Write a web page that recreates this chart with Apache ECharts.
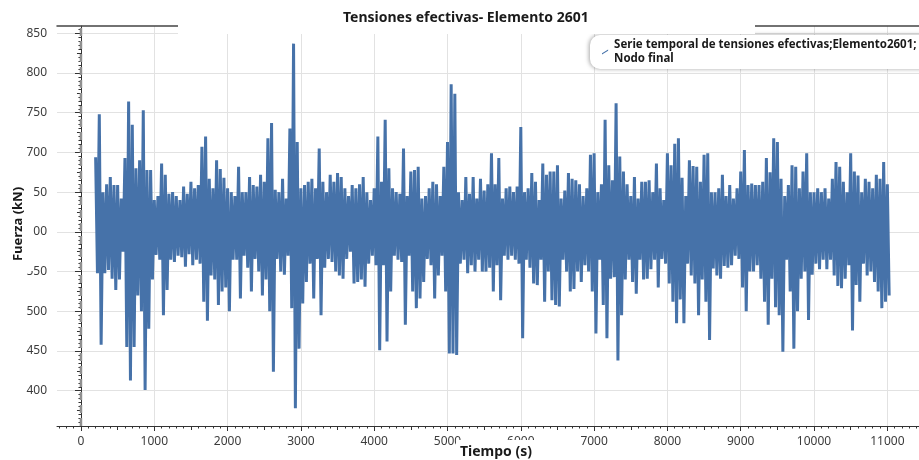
<!DOCTYPE html>
<html>
<head>
<meta charset="utf-8">
<script src="https://cdn.jsdelivr.net/npm/echarts@6/dist/echarts.min.js"></script>
<style>
  html, body { margin: 0; padding: 0; background: #fff; }
  #chart { width: 919px; height: 460px; }
</style>
</head>
<body>
<div id="chart"></div>
<script>
// Tensiones efectivas, elemento 2601 (nodo final): envolvente por intervalo
const serieNombre = 'Serie temporal de tensiones efectivas;Elemento2601;\nNodo final';
const tInicio = 200;   // s, primer intervalo
const tPaso = 50;      // s, ancho de cada intervalo

// Máximo de fuerza (kN) en cada intervalo
const picos = [
  694, 748, 650, 660, 669, 659, 659, 642, 693, 764,
  735, 680, 690, 753, 678, 678, 640, 645, 686, 672,
  648, 650, 645, 640, 657, 648, 663, 655, 659, 707,
  720, 667, 655, 690, 679, 668, 655, 650, 645, 682,
  650, 650, 669, 659, 657, 672, 663, 718, 737, 653,
  650, 667, 642, 730, 837, 713, 655, 659, 663, 667,
  655, 705, 663, 650, 672, 663, 674, 669, 655, 645,
  659, 655, 660, 669, 650, 640, 655, 720, 663, 741,
  680, 655, 650, 648, 705, 645, 676, 678, 682, 642,
  645, 655, 663, 660, 645, 682, 713, 786, 774, 650,
  640, 669, 648, 669, 642, 667, 652, 660, 699, 660,
  693, 642, 655, 657, 650, 657, 732, 650, 655, 674,
  663, 640, 686, 672, 676, 676, 684, 642, 652, 674,
  667, 665, 660, 645, 655, 697, 699, 650, 660, 741,
  684, 665, 762, 695, 676, 660, 645, 669, 642, 663,
  663, 665, 650, 686, 655, 640, 699, 684, 711, 718,
  668, 645, 690, 683, 682, 663, 697, 699, 650, 650,
  655, 672, 645, 659, 642, 655, 676, 703, 659, 661,
  659, 659, 663, 693, 675, 718, 713, 667, 645, 659,
  684, 682, 655, 676, 699, 650, 650, 655, 650, 655,
  642, 667, 688, 682, 663, 650, 699, 676, 671, 650,
  667, 663, 655, 672, 667, 688, 660
];

// Mínimo de fuerza (kN) en cada intervalo
const valles = [
  548, 458, 548, 552, 541, 527, 540, 575, 455, 413,
  455, 520, 500, 401, 478, 540, 571, 565, 495, 527,
  565, 562, 570, 568, 556, 572, 558, 565, 560, 512,
  488, 545, 540, 508, 525, 530, 500, 565, 565, 516,
  570, 555, 525, 566, 550, 520, 540, 500, 424, 566,
  550, 546, 570, 504, 378, 453, 510, 537, 560, 516,
  566, 495, 555, 566, 562, 550, 545, 541, 566, 575,
  535, 537, 540, 531, 560, 570, 558, 451, 558, 462,
  525, 570, 565, 562, 483, 570, 525, 504, 516, 537,
  566, 558, 516, 545, 570, 525, 447, 447, 445, 560,
  565, 548, 558, 550, 565, 550, 550, 555, 525, 558,
  514, 570, 565, 570, 565, 560, 466, 565, 555, 535,
  533, 565, 512, 550, 514, 508, 506, 565, 550, 525,
  528, 550, 537, 558, 550, 525, 472, 565, 508, 466,
  541, 543, 438, 495, 540, 565, 537, 522, 565, 540,
  541, 553, 565, 530, 566, 560, 535, 512, 485, 515,
  485, 560, 545, 535, 495, 540, 512, 464, 554, 545,
  541, 557, 555, 558, 570, 566, 530, 500, 550, 550,
  558, 541, 512, 483, 541, 505, 495, 449, 565, 525,
  453, 500, 541, 550, 489, 546, 560, 553, 565, 553,
  565, 545, 532, 529, 541, 558, 476, 533, 512, 560,
  545, 550, 537, 525, 504, 512, 520
];

// Marcas de los ejes
const tiempoTicks = [0, 1000, 2000, 3000, 4000, 5000, 6000, 7000, 8000, 9000, 10000, 11000];
const fuerzaTicks = [400, 450, 500, 550, 600, 650, 700, 750, 800, 850];
const tiempoOrigen = 0;

const X_MIN = -327, X_MAX = 11432;
const Y_MIN = 355.6, Y_MAX = 859.2;

// Serie: máximo y mínimo alternados dentro de cada intervalo
const datos = [];
for (let i = 0; i < picos.length; i++) {
  datos.push([tInicio + i * tPaso, picos[i]]);
  datos.push([tInicio + i * tPaso + tPaso / 2, valles[i]]);
}

// Subdivisiones de los ejes
const xMedias = [], xMenores = [], yMedias = [], yMenores = [];
for (let v = -300; v <= 11400; v += 100) {
  if (v % 1000 === 0) continue;
  if (v % 500 === 0) xMedias.push(v); else xMenores.push(v);
}
for (let v = 360; v <= 855; v += 5) {
  if (v % 50 === 0) continue;
  if (v % 25 === 0) yMedias.push(v); else yMenores.push(v);
}

const FUENTE = '"Noto Sans", "Open Sans", sans-serif';
const COLOR_EJE = '#333';
const COLOR_REJILLA = '#e2e2e2';
const AZUL = '#4672a9';

function ejeX(extra) {
  return Object.assign({
    type: 'value', min: X_MIN, max: X_MAX, position: 'bottom',
    axisLine: { show: false }, axisLabel: { show: false },
    splitLine: { show: false }, axisTick: { show: false }
  }, extra);
}
function ejeY(extra) {
  return Object.assign({
    type: 'value', min: Y_MIN, max: Y_MAX, position: 'left',
    axisLine: { show: false }, axisLabel: { show: false },
    splitLine: { show: false }, axisTick: { show: false }
  }, extra);
}

const chart = echarts.init(document.getElementById('chart'), null, { renderer: 'canvas' });

chart.setOption({
  animation: false,
  backgroundColor: '#fff',
  title: {
    text: 'Tensiones efectivas- Elemento 2601',
    left: 343, top: 11, padding: 0, z: 10,
    textStyle: { fontFamily: FUENTE, fontWeight: 'bold', fontSize: 14, color: '#1a1a1a' }
  },
  legend: {
    left: 590, top: 35,
    padding: [3, 60, 3, 12],
    itemWidth: 8, itemHeight: 5,
    backgroundColor: '#fff',
    borderRadius: 10,
    shadowBlur: 4, shadowColor: 'rgba(0,0,0,0.35)', shadowOffsetX: -1, shadowOffsetY: 0,
    data: [{ name: serieNombre, icon: 'path://M0,8 L10,2 L10,4.2 L0,10.2 Z' }],
    textStyle: { fontFamily: FUENTE, fontWeight: 'bold', fontSize: 11.5, color: '#1a1a1a', lineHeight: 14 }
  },
  grid: { left: 57, top: 26, right: 0, height: 400, containLabel: false },
  xAxis: [
    ejeX({
      axisLine: { show: true, lineStyle: { color: COLOR_EJE, width: 1 } },
      axisTick: { show: true, length: 5, customValues: tiempoTicks, lineStyle: { color: COLOR_EJE } },
      axisLabel: {
        show: true, customValues: tiempoTicks, margin: 10,
        formatter: v => String(v),
        fontFamily: FUENTE, fontSize: 12, color: '#3c3c3c'
      },
      splitLine: { show: true, lineStyle: { color: COLOR_REJILLA, width: 1 } }
    }),
    ejeX({ axisTick: { show: true, length: 4, customValues: xMedias, lineStyle: { color: COLOR_EJE } } }),
    ejeX({ axisTick: { show: true, length: 2.5, customValues: xMenores, lineStyle: { color: COLOR_EJE } } }),
    ejeX({ position: 'top', axisLine: { show: true, lineStyle: { color: '#444', width: 1.5 } } })
  ],
  yAxis: [
    ejeY({
      axisLine: { show: true, lineStyle: { color: COLOR_EJE, width: 1 } },
      axisTick: { show: true, length: 6, customValues: fuerzaTicks, lineStyle: { color: COLOR_EJE } },
      axisLabel: { show: true, customValues: fuerzaTicks, margin: 10, fontFamily: FUENTE, fontSize: 12, color: '#3c3c3c' },
      splitLine: { show: true, lineStyle: { color: COLOR_REJILLA, width: 1 } }
    }),
    ejeY({ axisTick: { show: true, length: 4, customValues: yMedias, lineStyle: { color: COLOR_EJE } } }),
    ejeY({ axisTick: { show: true, length: 2.5, customValues: yMenores, lineStyle: { color: COLOR_EJE } } })
  ],
  graphic: [
    // franja blanca bajo el título
    { type: 'rect', z: 5, shape: { x: 178, y: 0, width: 577, height: 34 }, style: { fill: '#fff' } },
    // nombre del eje Y
    {
      type: 'text', z: 20, x: 18, y: 224, rotation: Math.PI / 2,
      style: {
        text: 'Fuerza (kN)', font: 'bold 13px ' + FUENTE, fill: '#1a1a1a',
        align: 'center', verticalAlign: 'middle',
        backgroundColor: '#fff', padding: [6, 10, 11, 10]
      }
    },
    // nombre del eje X
    {
      type: 'text', z: 20, x: 498, y: 452,
      style: {
        text: 'Tiempo (s)', font: 'bold 14px ' + FUENTE, fill: '#1a1a1a',
        align: 'center', verticalAlign: 'middle',
        backgroundColor: '#fff', padding: [6, 8, 4, 4]
      }
    }
  ],
  series: [
    {
      name: serieNombre,
      type: 'line',
      xAxisIndex: 0, yAxisIndex: 0,
      data: datos,
      showSymbol: false,
      symbol: 'none',
      lineStyle: { color: AZUL, width: 3, join: 'miter', miterLimit: 1 },
      itemStyle: { color: AZUL }
    },
    {
      // referencia vertical discontinua en t = 0
      name: 'origen',
      type: 'line',
      xAxisIndex: 0, yAxisIndex: 0,
      data: [[tiempoOrigen, Y_MIN], [tiempoOrigen, Y_MAX]],
      showSymbol: false, symbol: 'none', silent: true, z: 10,
      lineStyle: { color: '#8f8f8f', type: [8, 5], width: 2.5 }
    }
  ]
});
</script>
</body>
</html>
